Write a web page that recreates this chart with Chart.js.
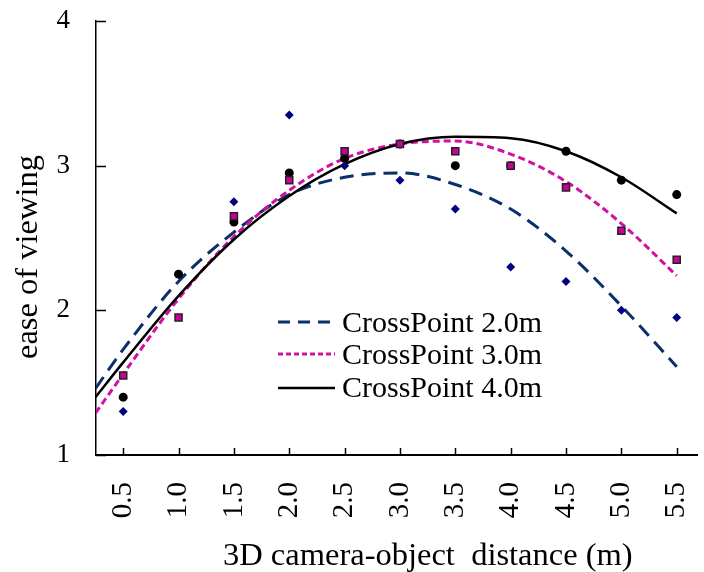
<!DOCTYPE html>
<html>
<head>
<meta charset="utf-8">
<script src="https://cdn.jsdelivr.net/npm/chart.js@4.4.0/dist/chart.umd.min.js"></script>
<style>
  html, body { margin: 0; padding: 0; background: #fff; }
</style>
</head>
<body>
<canvas id="c" width="704" height="572"></canvas>
<script>
// measured points, one value per camera-object distance
const distances = [0.5, 1.0, 1.5, 2.0, 2.5, 3.0, 3.5, 4.0, 4.5, 5.0, 5.5];
const tickLabels = ["0.5", "1.0", "1.5", "2.0", "2.5", "3.0", "3.5", "4.0", "4.5", "5.0", "5.5"];
const yTicks = [1, 2, 3, 4];
const cp2Points = [1.30, 2.25, 2.75, 3.35, 3.00, 2.90, 2.70, 2.30, 2.20, 2.00, 1.95];
const cp3Points = [1.55, 1.95, 2.65, 2.90, 3.10, 3.15, 3.10, 3.00, 2.85, 2.55, 2.35];
const cp4Points = [1.40, 2.25, 2.61, 2.95, 3.05, 3.15, 3.00, 3.00, 3.10, 2.90, 2.80];

// trend curves
const fitX = [0.25, 0.5, 1.0, 1.5, 2.0, 2.5, 3.0, 3.5, 4.0, 4.5, 5.0, 5.5];
const cp2Fit = [1.46, 1.73, 2.20, 2.54, 2.80, 2.92, 2.95, 2.87, 2.70, 2.41, 2.03, 1.61];
const cp3Fit = [1.29, 1.56, 2.08, 2.51, 2.83, 3.05, 3.15, 3.17, 3.08, 2.89, 2.60, 2.24];
const cp4Fit = [1.40, 1.64, 2.10, 2.49, 2.79, 3.01, 3.15, 3.20, 3.19, 3.10, 2.92, 2.67];

const legendLabels = ["CrossPoint 2.0m", "CrossPoint 3.0m", "CrossPoint 4.0m"];
const xTitle = "3D camera-object  distance (m)";
const yTitle = "ease of viewing";

const serif = "'Liberation Serif', 'Times New Roman', serif";
const blueLine = "#0b2f6b";
const pinkLine = "#d0109e";

const pts = (xs, ys) => xs.map((x, i) => ({ x: x, y: ys[i] }));

// inward tick marks, axis titles and the in-plot legend
const decor = {
  id: "decor",
  afterDraw(chart) {
    const c = chart.ctx;
    const xs = chart.scales.x, ys = chart.scales.y;
    const a = chart.chartArea;
    c.save();
    c.strokeStyle = "#000";
    c.lineWidth = 1.5;
    c.beginPath();
    distances.forEach(v => {
      const px = Math.round(xs.getPixelForValue(v)) + 0.5;
      c.moveTo(px, a.bottom);
      c.lineTo(px, a.bottom - 7);
    });
    yTicks.forEach(v => {
      const py = Math.round(ys.getPixelForValue(v)) + 0.5;
      c.moveTo(a.left, py);
      c.lineTo(a.left + 10, py);
    });
    c.stroke();

    c.fillStyle = "#000";
    c.font = "32.5px " + serif;
    c.textBaseline = "alphabetic";
    c.textAlign = "left";
    c.fillText(xTitle, 223, 565);

    c.save();
    c.translate(37, 257);
    c.rotate(-Math.PI / 2);
    c.textAlign = "center";
    c.fillText(yTitle, 0, 0);
    c.restore();

    // legend
    const fits = chart.data.datasets.filter(d => d.isFit);
    const lineY = [322, 354, 388];
    const textY = [332, 364, 397];
    c.font = "30px " + serif;
    fits.forEach((d, i) => {
      c.save();
      c.strokeStyle = d.borderColor;
      c.lineWidth = d.borderWidth;
      c.setLineDash(d.legendDash);
      c.beginPath();
      c.moveTo(278, lineY[i]);
      c.lineTo(335, lineY[i]);
      c.stroke();
      c.restore();
      c.fillText(legendLabels[i], 342, textY[i]);
    });
    c.restore();
  }
};

new Chart(document.getElementById("c"), {
  type: "scatter",
  data: {
    datasets: [
      {
        label: "CrossPoint 3.0m data",
        data: pts(distances, cp3Points),
        pointStyle: "rect",
        pointRadius: 5,
        backgroundColor: "#cc0099",
        borderColor: "#222",
        borderWidth: 1.5,
        order: 1,
      },
      {
        label: "CrossPoint 4.0m data",
        data: pts(distances, cp4Points),
        pointStyle: "circle",
        pointRadius: 4.5,
        backgroundColor: "#000",
        borderColor: "#000",
        borderWidth: 0,
        order: 2,
      },
      {
        label: "CrossPoint 2.0m data",
        data: pts(distances, cp2Points),
        pointStyle: "rectRot",
        pointRadius: 4.5,
        backgroundColor: "#000080",
        borderColor: "#000080",
        borderWidth: 0,
        order: 3,
      },
      {
        label: legendLabels[0],
        isFit: true,
        data: pts(fitX, cp2Fit),
        showLine: true,
        pointRadius: 0,
        borderColor: blueLine,
        borderWidth: 3,
        borderDash: [14, 8],
        legendDash: [12, 8],
        cubicInterpolationMode: "monotone",
        order: 6,
      },
      {
        label: legendLabels[1],
        isFit: true,
        data: pts(fitX, cp3Fit),
        showLine: true,
        pointRadius: 0,
        borderColor: pinkLine,
        borderWidth: 3,
        borderDash: [7, 4],
        legendDash: [5, 3],
        cubicInterpolationMode: "monotone",
        order: 5,
      },
      {
        label: legendLabels[2],
        isFit: true,
        data: pts(fitX, cp4Fit),
        showLine: true,
        pointRadius: 0,
        borderColor: "#000",
        borderWidth: 2.5,
        borderDash: [],
        legendDash: [],
        cubicInterpolationMode: "monotone",
        order: 4,
      },
    ],
  },
  options: {
    responsive: false,
    animation: false,
    devicePixelRatio: 1,
    layout: { padding: { top: 21, right: 0, left: 0, bottom: 0 } },
    plugins: {
      legend: { display: false },
      tooltip: { enabled: false },
    },
    scales: {
      x: {
        type: "linear",
        min: 0.2543,
        max: 5.6877,
        afterBuildTicks: (s) => { s.ticks = distances.map(v => ({ value: v })); },
        afterFit: (s) => {
          s.height = 117;
          s.paddingLeft = 0; s.paddingRight = 0; s.paddingTop = 0; s.paddingBottom = 0;
        },
        grid: { display: false, drawTicks: false },
        border: { display: true, color: "#000", width: 2 },
        ticks: {
          autoSkip: false,
          minRotation: 90,
          maxRotation: 90,
          padding: 27,
          color: "#000",
          font: { family: serif, size: 29 },
          callback: (v) => tickLabels[distances.indexOf(v)],
        },
      },
      y: {
        min: 1,
        max: 4,
        afterBuildTicks: (s) => { s.ticks = yTicks.map(v => ({ value: v })); },
        afterFit: (s) => {
          s.width = 96;
          s.paddingLeft = 0; s.paddingRight = 0; s.paddingTop = 0; s.paddingBottom = 0;
        },
        grid: { display: false, drawTicks: false },
        border: { display: true, color: "#000", width: 1.5 },
        ticks: {
          padding: 26,
          color: "#000",
          font: { family: serif, size: 27 },
        },
      },
    },
  },
  plugins: [decor],
});
</script>
</body>
</html>
